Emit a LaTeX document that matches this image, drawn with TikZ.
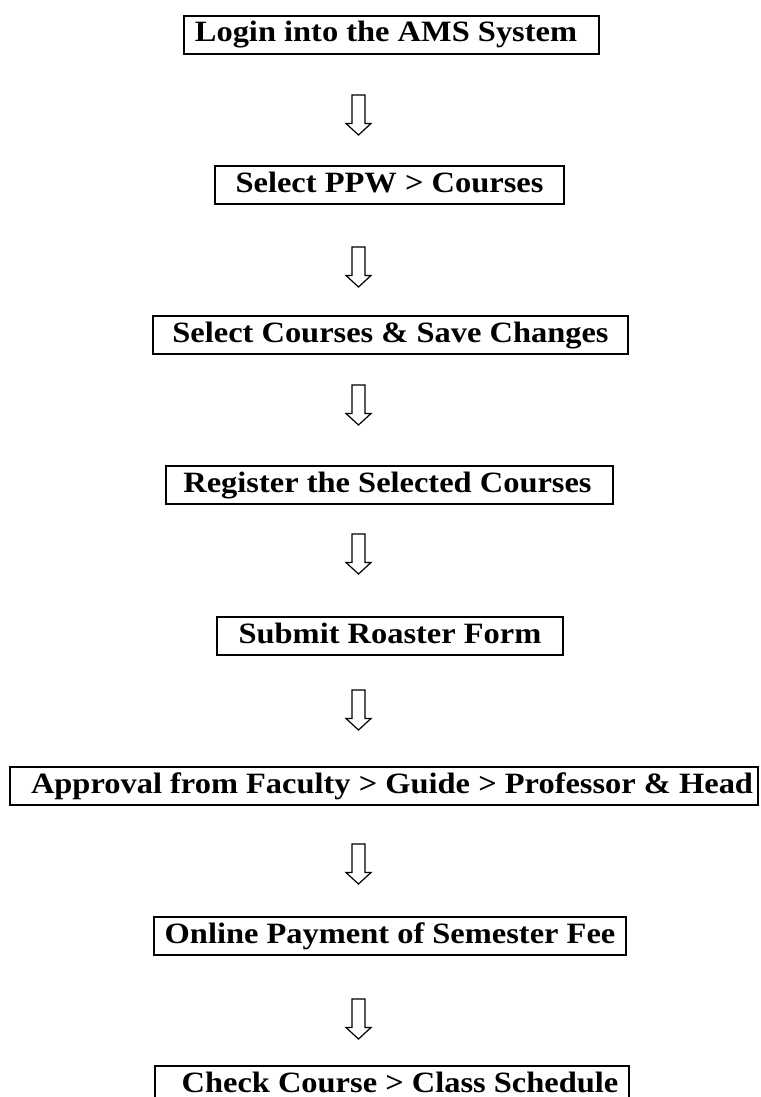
\documentclass[tikz,border=0pt]{standalone}
\usepackage{fontspec}
\setmainfont{Liberation Serif}
\usepackage{graphicx}
\usetikzlibrary{calc}
\newcommand\flowlabel[2]{\makebox[0pt]{\hspace*{#1}\scalebox{1.1}[1]{#2}}}
\tikzset{
  flowbox/.style={draw, line width=2pt, inner sep=0pt, anchor=north west,
    minimum height=38pt, text height=26pt, text depth=12pt,
    font=\bfseries\fontsize{29.5}{32}\selectfont},
  pics/hollowdown/.style={code={
    \draw[line width=1.2pt, line join=miter]
      (-6.5,0) -- (-6.5,-#1) -- (-12.5,-#1) -- (0,-#1-11.5) -- (12.5,-#1) -- (6.5,-#1) -- (6.5,0) -- cycle;}}
}
\begin{document}
\begin{tikzpicture}[x=1pt,y=1pt]
\useasboundingbox[fill=white] (0,0) rectangle (760,-1097);
\node[flowbox, minimum width=415pt] (b1) at (183,-15) {\flowlabel{-11pt}{Login into the AMS System}};
\node[flowbox, minimum width=349pt] (b2) at (214,-165) {\flowlabel{0pt}{Select PPW > Courses}};
\node[flowbox, minimum width=475pt] (b3) at (152,-315) {\flowlabel{0pt}{Select Courses \& Save Changes}};
\node[flowbox, minimum width=447pt] (b4) at (165,-465) {\flowlabel{-4pt}{Register the Selected Courses}};
\node[flowbox, minimum width=346pt] (b5) at (216,-616) {\flowlabel{0pt}{Submit Roaster Form}};
\node[flowbox, minimum width=748pt] (b6) at (9,-766) {\flowlabel{16pt}{Approval from Faculty > Guide > Professor \& Head}};
\node[flowbox, minimum width=472pt] (b7) at (153,-916) {\flowlabel{0pt}{Online Payment of Semester Fee}};
\node[flowbox, minimum width=474pt] (b8) at (154,-1065) {\flowlabel{16pt}{Check Course > Class Schedule}};
\pic at ($(358.5,0 |- b1.south)+(0,-40)$) {hollowdown=28.5};
\pic at ($(358.5,0 |- b2.south)+(0,-42)$) {hollowdown=28.5};
\pic at ($(358.5,0 |- b3.south)+(0,-30)$) {hollowdown=28.5};
\pic at ($(358.5,0 |- b4.south)+(0,-29)$) {hollowdown=28.5};
\pic at ($(358.5,0 |- b5.south)+(0,-34)$) {hollowdown=28.5};
\pic at ($(358.5,0 |- b6.south)+(0,-38)$) {hollowdown=28.5};
\pic at ($(358.5,0 |- b7.south)+(0,-43)$) {hollowdown=28.5};
\end{tikzpicture}
\end{document}
